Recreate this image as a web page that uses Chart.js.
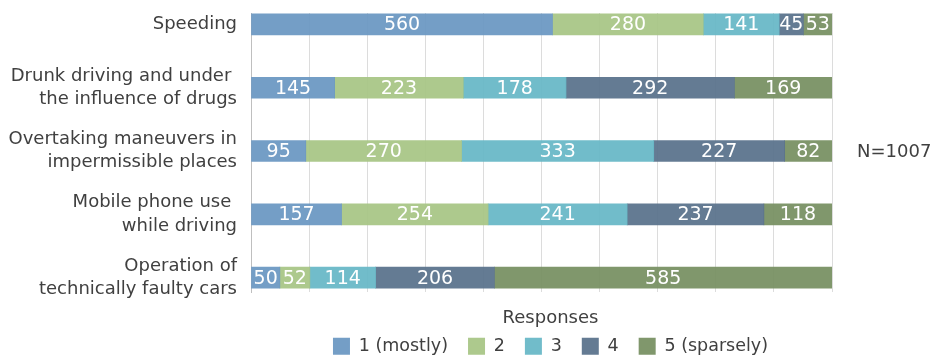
<!DOCTYPE html>
<html>
<head>
<meta charset="utf-8">
<title>Responses</title>
<script src="https://cdn.jsdelivr.net/npm/chart.js@4/dist/chart.umd.min.js"></script>
<style>
    html, body { margin: 0; padding: 0; background: #ffffff; }
    #wrap { position: relative; width: 931px; height: 357px; }
</style>
</head>
<body>
<div id="wrap"><canvas id="responsesChart"></canvas></div>
<script>
// Categories (top to bottom)
const categories = [
    ['Speeding'],
    ['Drunk driving and under ', 'the influence of drugs'],
    ['Overtaking maneuvers in', 'impermissible places'],
    ['Mobile phone use ', 'while driving'],
    ['Operation of', 'technically faulty cars']
];

// Response counts per answer, one value per category
const mostly = [560, 145, 95, 157, 50];
const answer2 = [280, 223, 270, 254, 52];
const answer3 = [141, 178, 333, 241, 114];
const answer4 = [45, 292, 227, 237, 206];
const sparsely = [53, 169, 82, 118, 585];

const seriesNames = ['1 (mostly)', '2', '3', '4', '5 (sparsely)'];
const seriesValues = [mostly, answer2, answer3, answer4, sparsely];
const seriesColors = [
    'rgba(104, 150, 193, 0.92)',
    'rgba(166, 196, 131, 0.92)',
    'rgba(101, 182, 198, 0.92)',
    'rgba(87, 112, 138, 0.92)',
    'rgba(117, 142, 96, 0.92)'
];

const sampleNote = 'N=1007';
const textColor = '#404040';
const fontFamily = '"DejaVu Sans", sans-serif';

// Each bar is shown as a share of its row total (100% stacked)
const rowTotals = categories.map((_, i) => seriesValues.reduce((sum, s) => sum + s[i], 0));

const datasets = seriesNames.map((name, d) => ({
    label: name,
    data: seriesValues[d].map((v, i) => ({ x: v / rowTotals[i] * 100, y: i })),
    backgroundColor: seriesColors[d],
    borderWidth: 0,
    barThickness: 21
}));

// Writes the count in the middle of every segment
const valueLabels = {
    id: 'valueLabels',
    afterDatasetsDraw(chart) {
        const ctx = chart.ctx;
        ctx.save();
        ctx.font = '19px ' + fontFamily;
        ctx.fillStyle = '#ffffff';
        ctx.textAlign = 'center';
        ctx.textBaseline = 'middle';
        chart.data.datasets.forEach((ds, d) => {
            chart.getDatasetMeta(d).data.forEach((bar, i) => {
                ctx.fillText(String(seriesValues[d][i]), (bar.x + bar.base) / 2, bar.y + 1);
            });
        });
        ctx.restore();
    }
};

// Sample size note on the right of the plot
const sampleSize = {
    id: 'sampleSize',
    afterDraw(chart) {
        const ctx = chart.ctx;
        const area = chart.chartArea;
        ctx.save();
        ctx.font = '18px ' + fontFamily;
        ctx.fillStyle = textColor;
        ctx.textAlign = 'left';
        ctx.textBaseline = 'middle';
        ctx.fillText(sampleNote, area.right + 25, 152);
        ctx.restore();
    }
};

// Nudge the legend a little to the right of the plot centre
const legendShift = {
    id: 'legendShift',
    afterLayout(chart) {
        if (chart.legend) {
            chart.legend.left += 9;
            chart.legend.right += 9;
        }
    }
};

const ctx = document.getElementById('responsesChart').getContext('2d');

new Chart(ctx, {
    type: 'bar',
    data: { datasets: datasets },
    plugins: [valueLabels, sampleSize, legendShift],
    options: {
        indexAxis: 'y',
        responsive: true,
        maintainAspectRatio: false,
        animation: false,
        layout: {
            padding: { top: 13, right: 99, bottom: -8, left: 0 }
        },
        scales: {
            x: {
                type: 'linear',
                stacked: true,
                min: 0,
                max: 100,
                ticks: { display: false, stepSize: 10 },
                grid: { color: '#dcdcdc', lineWidth: 1, drawTicks: false },
                border: { display: false },
                afterFit(scale) { scale.height = 17; }
            },
            y: {
                type: 'linear',
                stacked: true,
                reverse: true,
                offset: false,
                min: -0.18,
                max: 4.23,
                grid: { color: 'transparent', offset: false, drawTicks: true, tickLength: 14 },
                border: { display: true, color: '#bfbfbf', width: 1 },
                ticks: {
                    stepSize: 1,
                    includeBounds: false,
                    autoSkip: false,
                    padding: 0,
                    color: textColor,
                    font: { family: fontFamily, size: 18, lineHeight: 1.3 },
                    callback: (value) => Number.isInteger(value) ? categories[value] : null
                },
                afterFit(scale) { scale.width = 251; }
            }
        },
        plugins: {
            legend: {
                position: 'bottom',
                fullSize: false,
                title: {
                    display: true,
                    text: 'Responses',
                    color: textColor,
                    font: { family: fontFamily, size: 18, lineHeight: 1 },
                    padding: { top: 0, bottom: -9.75 }
                },
                labels: {
                    boxWidth: 17,
                    boxHeight: 17,
                    padding: 20,
                    color: textColor,
                    font: { family: fontFamily, size: 17.5 }
                }
            },
            tooltip: {
                mode: 'index',
                intersect: false
            }
        }
    }
});
</script>
</body>
</html>
